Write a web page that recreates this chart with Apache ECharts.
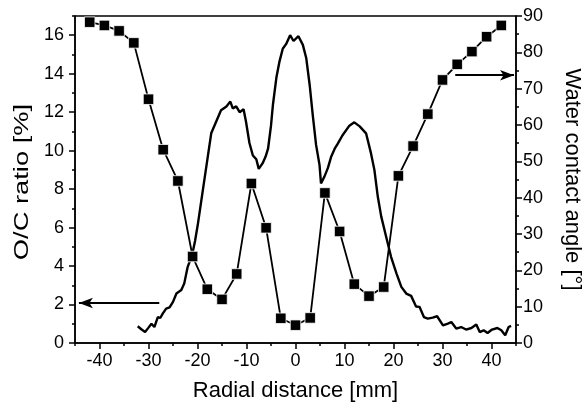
<!DOCTYPE html>
<html><head><meta charset="utf-8">
<script src="https://cdn.jsdelivr.net/npm/echarts@6/dist/echarts.min.js"></script>
<style>html,body{margin:0;padding:0;background:#fff}#c{width:585px;height:404px}</style>
</head><body><div id="c"></div>
<script>
// O/C ratio profile [radial distance mm, O/C %]
const ocRatio = [[-32.2,0.87],[-31.4,0.7],[-30.7,0.57],[-30.0,0.8],[-29.4,1.0],[-28.8,0.83],[-28.1,1.35],[-27.6,1.3],[-27.1,1.53],[-26.4,1.79],[-25.7,1.85],[-25.0,2.14],[-24.3,2.57],[-23.3,2.75],[-22.7,3.1],[-22.0,3.96],[-21.1,4.57],[-20.5,5.3],[-19.9,6.22],[-18.9,7.96],[-17.9,9.69],[-17.2,10.9],[-16.2,11.5],[-15.2,12.1],[-14.1,12.3],[-13.3,12.55],[-12.8,12.2],[-12.1,12.3],[-11.4,12.0],[-10.6,12.15],[-10.1,11.5],[-9.4,10.4],[-8.7,9.75],[-8.0,9.55],[-7.5,9.05],[-6.7,9.35],[-6.1,9.69],[-5.6,10.1],[-5.0,11.3],[-4.6,12.4],[-3.9,13.8],[-3.3,14.6],[-2.6,15.3],[-1.9,15.55],[-1.1,16.0],[-0.4,15.7],[0.6,15.95],[1.5,15.5],[2.2,14.8],[2.9,13.4],[3.5,11.9],[4.2,10.3],[4.9,9.26],[5.2,8.3],[5.9,8.65],[6.6,9.09],[7.3,9.7],[8.0,10.1],[8.6,10.35],[9.6,10.8],[11.0,11.3],[12.0,11.47],[13.1,11.26],[14.4,10.9],[15.4,9.87],[16.1,9.0],[16.8,7.6],[17.5,6.57],[18.5,5.52],[19.5,4.48],[20.6,3.62],[21.6,2.92],[22.6,2.57],[23.6,2.45],[24.6,1.9],[25.3,1.88],[26.2,1.35],[27.0,1.27],[28.0,1.32],[28.9,1.39],[30.1,0.92],[31.1,1.01],[31.8,1.09],[32.8,0.75],[33.8,0.83],[34.8,0.7],[35.9,0.78],[36.9,0.96],[37.6,0.57],[38.4,0.66],[39.2,0.52],[40.1,0.7],[41.2,0.78],[42.0,0.66],[42.8,0.4],[43.5,0.83],[44.0,0.89]];

// Water contact angle measurements
const wcaPositions = [-42,-39,-36,-33,-30,-27,-24,-21,-18,-15,-12,-9,-6,-3,0,3,6,9,12,15,18,21,24,27,30,33,36,39,42];
const wcaValues = [88.3,87.4,85.9,82.6,67.1,53.2,44.6,23.8,14.8,12.0,19.0,43.9,31.7,6.8,4.9,6.9,41.3,30.7,16.2,12.9,15.4,46.0,54.2,63.0,72.4,76.7,80.2,84.3,87.4];

// Tick values
const xMajorTicks = [-40,-30,-20,-10,0,10,20,30,40];
const xMinorTicks = [-45,-35,-25,-15,-5,5,15,25,35,45];
const yLeftMajor = [0,2,4,6,8,10,12,14,16];
const yLeftMinor = [1,3,5,7,9,11,13,15,17];
const yRightMajor = [0,10,20,30,40,50,60,70,80,90];
const yRightMinor = [5,15,25,35,45,55,65,75,85];

// Arrow annotations (data coordinates)
const leftArrow = [[-27.8,2.08],[-44.2,2.08]];
const rightArrow = [[32.6,73.7],[44.6,73.7]];

const xTitle = 'Radial distance [mm]';
const yLeftTitle = 'O/C ratio [%]';
const yRightTitle = 'Water contact angle [°]';

const FONT = 'Liberation Sans, Arial, sans-serif';
const chart = echarts.init(document.getElementById('c'), null, {renderer:'canvas'});
const wcaData = wcaPositions.map((x,i)=>[x,wcaValues[i]]);
const axLine = {show:true, onZero:false, lineStyle:{color:'#000', width:1.5}};
const noLine = {show:false, onZero:false};
const labelStyle = {color:'#000', fontSize:18, fontFamily:FONT};
const nameStyle = {color:'#000', fontSize:22, fontFamily:FONT};
const tickStyle = {color:'#000', width:1.5};

chart.setOption({
  animation:false,
  grid:{left:75, right:69, top:16, bottom:61, containLabel:false, outerBoundsMode:'none',
        show:true, borderColor:'#000', borderWidth:1.5, backgroundColor:'transparent'},
  graphic:[
    {type:'text', x:22, y:182, rotation:Math.PI/2, scaleX:1.3, scaleY:1,
     style:{text:yLeftTitle, fontSize:21, fontFamily:FONT, fill:'#000', align:'center', verticalAlign:'middle'}}
  ],
  xAxis:[
    {type:'value', min:-45, max:45, position:'bottom',
     name:xTitle, nameLocation:'middle', nameGap:37, nameTextStyle:nameStyle,
     axisLine:axLine, splitLine:{show:false},
     axisTick:{show:true, customValues:xMajorTicks, length:6, lineStyle:tickStyle},
     axisLabel:{show:true, customValues:xMajorTicks, margin:9, ...labelStyle}},
    {type:'value', min:-45, max:45, position:'bottom',
     axisLine:noLine, splitLine:{show:false}, axisLabel:{show:false},
     axisTick:{show:true, customValues:xMinorTicks, length:3, lineStyle:tickStyle}}
  ],
  yAxis:[
    {type:'value', min:0, max:17, position:'left',
     axisLine:axLine, splitLine:{show:false},
     axisTick:{show:true, customValues:yLeftMajor, length:6, lineStyle:tickStyle},
     axisLabel:{show:true, customValues:yLeftMajor, margin:11, ...labelStyle}},
    {type:'value', min:0, max:90, position:'right',
     name:yRightTitle, nameLocation:'middle', nameGap:45, nameRotate:-90, nameTextStyle:nameStyle,
     axisLine:axLine, splitLine:{show:false},
     axisTick:{show:true, customValues:yRightMajor, length:6, lineStyle:tickStyle},
     axisLabel:{show:true, customValues:yRightMajor, margin:7, ...labelStyle}},
    {type:'value', min:0, max:17, position:'left',
     axisLine:noLine, splitLine:{show:false}, axisLabel:{show:false},
     axisTick:{show:true, customValues:yLeftMinor, length:3, lineStyle:tickStyle}},
    {type:'value', min:0, max:90, position:'right',
     axisLine:noLine, splitLine:{show:false}, axisLabel:{show:false},
     axisTick:{show:true, customValues:yRightMinor, length:3, lineStyle:tickStyle}}
  ],
  series:[
    {name:'O/C ratio', type:'line', xAxisIndex:0, yAxisIndex:0, data:ocRatio, showSymbol:false, symbol:'none',
     lineStyle:{color:'#000', width:2.4}, itemStyle:{color:'#000'}, z:3,
     markLine:{silent:true, symbol:['none','arrow'], symbolSize:[8,14], label:{show:false},
       lineStyle:{color:'#000', width:2, type:'solid'},
       data:[[{coord:leftArrow[0]},{coord:leftArrow[1]}]]}},
    {name:'Water contact angle', type:'line', xAxisIndex:0, yAxisIndex:1, data:wcaData, symbol:'rect', symbolSize:10.5,
     lineStyle:{color:'#000', width:1.8}, itemStyle:{color:'#000', borderColor:'#fff', borderWidth:0.8}, z:4,
     markLine:{silent:true, symbol:['none','arrow'], symbolSize:[8,14], label:{show:false},
       lineStyle:{color:'#000', width:2, type:'solid'},
       data:[[{coord:rightArrow[0]},{coord:rightArrow[1]}]]}}
  ]
});
</script></body></html>
